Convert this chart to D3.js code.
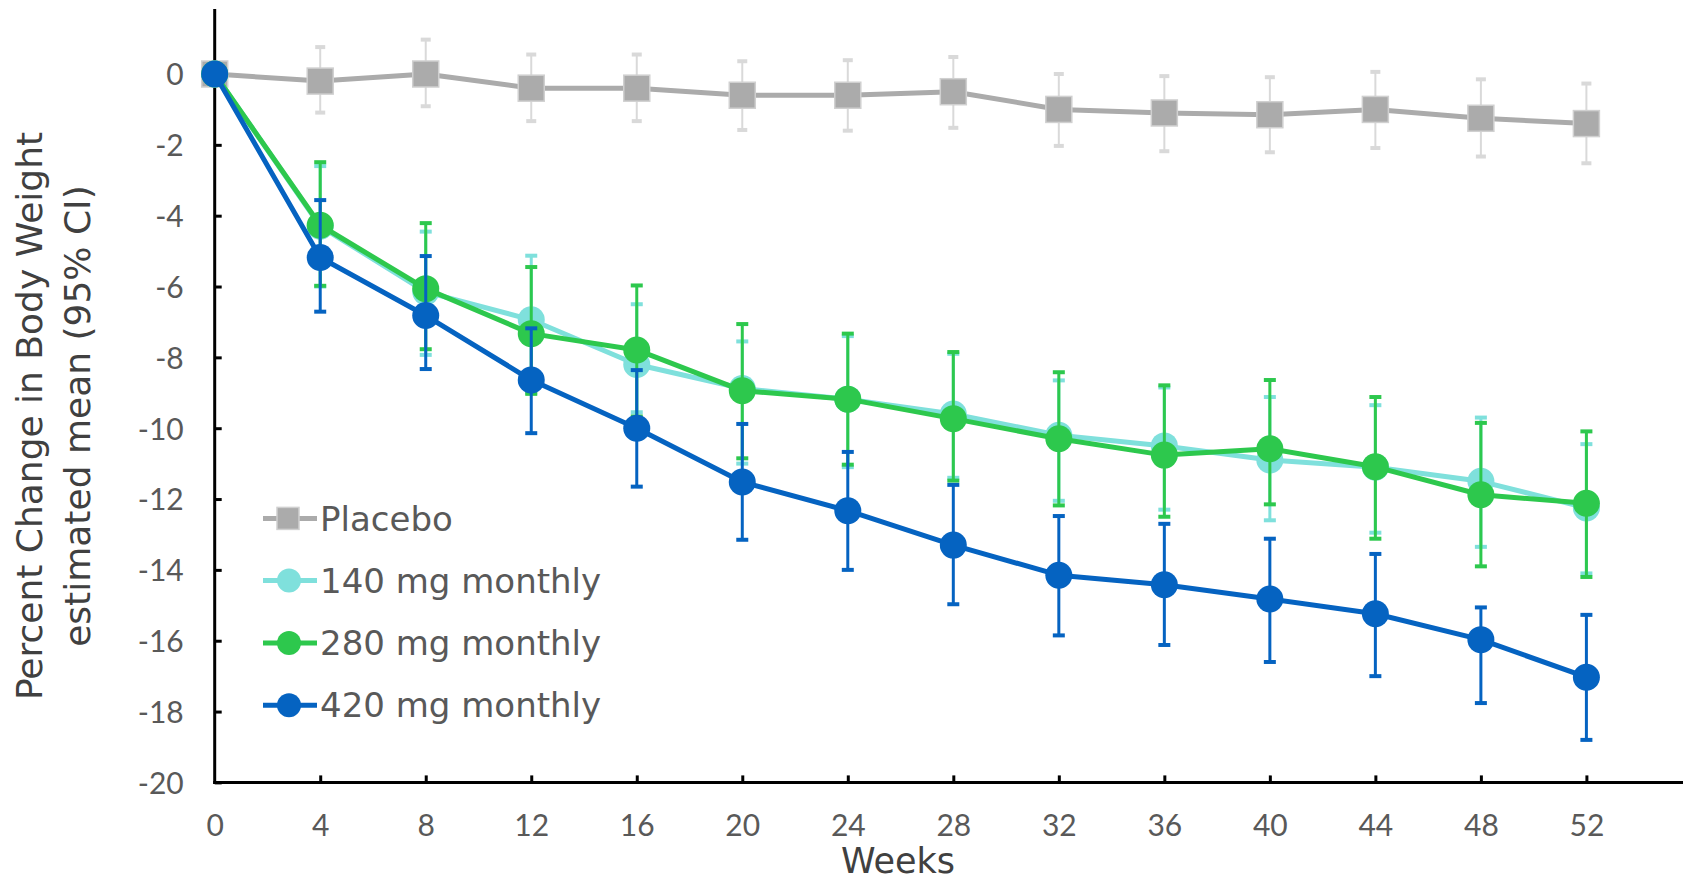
<!DOCTYPE html>
<html>
<head>
<meta charset="utf-8">
<script src="https://cdn.jsdelivr.net/npm/d3@7"></script>
<style>
  body { margin: 0; background: #fff; }
  svg { display: block; font-family: "DejaVu Sans", sans-serif; }
</style>
</head>
<body>
<div id="root"></div>
<script>
// weeks on the x axis
const weeks = [0, 4, 8, 12, 16, 20, 24, 28, 32, 36, 40, 44, 48, 52]
const yTicks = [0, -2, -4, -6, -8, -10, -12, -14, -16, -18, -20]

// estimated mean % change, with 95% CI ends
const placebo   = [0, -0.2, 0.0, -0.4, -0.4, -0.6, -0.6, -0.5, -1.0, -1.1, -1.15, -1.0, -1.25, -1.4]
const placeboHi = [0, 0.76, 0.97, 0.55, 0.55, 0.36, 0.39, 0.48, 0.0, -0.06, -0.09, 0.06, -0.15, -0.27]
const placeboLo = [0, -1.09, -0.91, -1.33, -1.33, -1.58, -1.6, -1.52, -2.03, -2.18, -2.21, -2.09, -2.33, -2.52]

const mg140   = [0, -4.3, -6.15, -6.94, -8.2, -8.88, -9.18, -9.6, -10.2, -10.5, -10.9, -11.1, -11.5, -12.25]
const mg140Hi = [0, -2.6, -4.45, -5.13, -6.5, -7.55, -7.4, -7.9, -8.65, -8.85, -9.12, -9.35, -9.7, -10.45]
const mg140Lo = [0, -6.0, -7.93, -9.0, -9.55, -11.0, -11.1, -11.4, -12.05, -12.3, -12.6, -12.95, -13.35, -14.1]

const mg280   = [0, -4.27, -6.06, -7.33, -7.79, -8.94, -9.18, -9.73, -10.3, -10.76, -10.58, -11.09, -11.88, -12.12]
const mg280Hi = [0, -2.49, -4.21, -5.45, -5.97, -7.06, -7.33, -7.85, -8.42, -8.79, -8.64, -9.12, -9.85, -10.09]
const mg280Lo = [0, -5.98, -7.77, -9.03, -9.67, -10.85, -11.03, -11.48, -12.18, -12.5, -12.15, -13.12, -13.9, -14.2]

const mg420   = [0, -5.18, -6.82, -8.64, -10.0, -11.52, -12.33, -13.3, -14.15, -14.42, -14.82, -15.24, -15.97, -17.03]
const mg420Hi = [0, -3.56, -5.14, -7.18, -8.36, -9.88, -10.67, -11.6, -12.48, -12.7, -13.12, -13.55, -15.06, -15.27]
const mg420Lo = [0, -6.71, -8.33, -10.14, -11.65, -13.15, -14.0, -14.97, -15.85, -16.12, -16.6, -17.0, -17.76, -18.8]

const seriesNames = ["Placebo", "140 mg monthly", "280 mg monthly", "420 mg monthly"]

const width = 1683
const height = 883

const svg = d3.select("#root").append("svg")
    .attr("width", width)
    .attr("height", height)

const x = d3.scaleLinear().domain([0, 52]).range([214.7, 1586.4])
const y = d3.scaleLinear().domain([-20, 0]).range([782.4, 74])

const series = [
    { name: seriesNames[0], mean: placebo, hi: placeboHi, lo: placeboLo, color: "#ababab", bar: "#d9d9d9", barW: 2, cap: 10, shape: "square" },
    { name: seriesNames[1], mean: mg140, hi: mg140Hi, lo: mg140Lo, color: "#7fe0dc", bar: "#7fe0dc", barW: 3, cap: 12, shape: "circle" },
    { name: seriesNames[2], mean: mg280, hi: mg280Hi, lo: mg280Lo, color: "#2dc84d", bar: "#2dc84d", barW: 3, cap: 12, shape: "circle" },
    { name: seriesNames[3], mean: mg420, hi: mg420Hi, lo: mg420Lo, color: "#0563c1", bar: "#0563c1", barW: 3, cap: 12, shape: "circle" }
]

// axes - plain hyphen like the original, not the unicode minus
const yAxis = d3.axisLeft(y).tickValues(yTicks).tickSize(-7).tickPadding(31).tickFormat(d => String(d))
const xAxis = d3.axisBottom(x).tickValues(weeks).tickSize(-7).tickPadding(32).tickFormat(d => String(d))

const gy = svg.append("g").attr("transform", `translate(${x(0)},0)`).call(yAxis)
gy.select(".domain").remove()
gy.selectAll(".tick line").attr("stroke", "#000").attr("stroke-width", 3)
    .attr("x2", d => d === 0 ? 0 : 7)
gy.selectAll(".tick text").attr("fill", "#595959").style("font-size", "30px")
    .style("font-family", "Lato, sans-serif").attr("dy", "0.36em")

const gx = svg.append("g").attr("transform", `translate(0,${y(-20)})`).call(xAxis)
gx.select(".domain").remove()
gx.selectAll(".tick line").attr("stroke", "#000").attr("stroke-width", 3)
    .attr("y2", d => d === 0 ? 0 : -7)
gx.selectAll(".tick text").attr("fill", "#595959").style("font-size", "30px")
    .style("font-family", "Lato, sans-serif")

// axis lines
svg.append("line")
    .attr("x1", x(0)).attr("x2", x(0))
    .attr("y1", 9).attr("y2", y(-20) + 1.5)
    .attr("stroke", "#000").attr("stroke-width", 3)
svg.append("line")
    .attr("x1", x(0) - 1.5).attr("x2", width)
    .attr("y1", y(-20)).attr("y2", y(-20))
    .attr("stroke", "#000").attr("stroke-width", 3)

// titles
svg.append("text")
    .attr("x", 898).attr("y", 873)
    .attr("text-anchor", "middle").attr("fill", "#404040")
    .style("font-size", "35px").text("Weeks")

const yt = svg.append("text")
    .attr("transform", "translate(29,416) rotate(-90)")
    .attr("text-anchor", "middle").attr("fill", "#404040")
    .style("font-size", "36px")
yt.append("tspan").attr("x", 0).attr("y", 13).text("Percent Change in Body Weight")
yt.append("tspan").attr("x", 0).attr("y", 61).text("estimated mean (95% CI)")

// series
const line = d3.line().x((d, i) => x(weeks[i])).y(d => y(d))

series.forEach(s => {
    const g = svg.append("g")
    const bars = g.selectAll(".bar").data(weeks.slice(1)).join("g")
    bars.append("line")
        .attr("x1", w => x(w)).attr("x2", w => x(w))
        .attr("y1", (w, i) => y(s.hi[i + 1])).attr("y2", (w, i) => y(s.lo[i + 1]))
        .attr("stroke", s.bar).attr("stroke-width", s.barW)
    ;["hi", "lo"].forEach(k => {
        bars.append("line")
            .attr("x1", w => x(w) - s.cap / 2).attr("x2", w => x(w) + s.cap / 2)
            .attr("y1", (w, i) => y(s[k][i + 1])).attr("y2", (w, i) => y(s[k][i + 1]))
            .attr("stroke", s.bar).attr("stroke-width", 4)
    })

    g.append("path").attr("d", line(s.mean))
        .attr("fill", "none").attr("stroke", s.color).attr("stroke-width", 5)
        .attr("stroke-linejoin", "round")

    if (s.shape === "square") {
        g.selectAll(".pt").data(s.mean).join("rect")
            .attr("x", (d, i) => x(weeks[i]) - 13).attr("y", d => y(d) - 13)
            .attr("width", 26).attr("height", 26)
            .attr("fill", s.color).attr("stroke", "#d0d0d0").attr("stroke-width", 1.5)
    } else {
        g.selectAll(".pt").data(s.mean).join("circle")
            .attr("cx", (d, i) => x(weeks[i])).attr("cy", d => y(d)).attr("r", 13.5)
            .attr("fill", s.color)
    }
})

// legend
const legendRows = [518.4, 580.6, 642.9, 705.2]
series.forEach((s, i) => {
    const g = svg.append("g").attr("transform", `translate(0,${legendRows[i]})`)
    g.append("line").attr("x1", 263).attr("x2", 317).attr("y1", 0).attr("y2", 0)
        .attr("stroke", s.color).attr("stroke-width", 5)
    if (s.shape === "square") {
        g.append("rect").attr("x", 277).attr("y", -11).attr("width", 22).attr("height", 22)
            .attr("fill", s.color).attr("stroke", "#d0d0d0").attr("stroke-width", 1.5)
    } else {
        g.append("circle").attr("cx", 289).attr("cy", 0).attr("r", 12).attr("fill", s.color)
    }
    g.append("text").attr("x", 320).attr("y", 0).attr("dy", "0.36em")
        .attr("fill", "#595959").style("font-size", "34px").text(s.name)
})
</script>
</body>
</html>
